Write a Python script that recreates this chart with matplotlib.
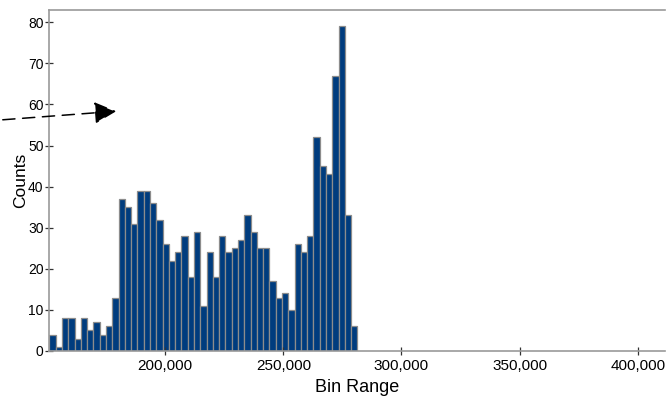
import matplotlib.pyplot as plt
from matplotlib.patches import FancyArrowPatch
from matplotlib.ticker import StrMethodFormatter

plt.rcParams['font.family'] = ['Liberation Sans', 'DejaVu Sans']

# histogram
bin_start = 151000
bin_width = 2660
counts = [4, 1, 8, 8, 3, 8, 5, 7, 4, 6, 13, 37, 35, 31, 39, 39, 36, 32, 26, 22,
          24, 28, 18, 29, 11, 24, 18, 28, 24, 25, 27, 33, 29, 25, 25, 17, 13, 14,
          10, 26, 24, 28, 52, 45, 43, 67, 79, 33, 6]
x_ticks = [200000, 250000, 300000, 350000, 400000]
y_ticks = [0, 10, 20, 30, 40, 50, 60, 70, 80]

lefts = [bin_start + i * bin_width for i in range(len(counts))]

fig = plt.figure(figsize=(6.66, 3.98), dpi=100)
ax = fig.add_axes([49 / 666, 1 - 351 / 398, 616 / 666, 341 / 398])

ax.bar(lefts, counts, width=bin_width, align='edge',
       color='#003c7e', edgecolor='#8c8c8c', linewidth=0.9)

ax.set_xlim(150850, 411500)
ax.set_ylim(0, 83)
ax.set_xticks(x_ticks)
ax.set_yticks(y_ticks)
ax.xaxis.set_major_formatter(StrMethodFormatter('{x:,.0f}'))

for side in ['left', 'bottom', 'top']:
    ax.spines[side].set_color('#9a9a9a')
    ax.spines[side].set_linewidth(1.2)
ax.spines['right'].set_visible(False)

ax.tick_params(axis='x', direction='inout', length=6, width=0.9,
               color='#333333', labelsize=11, pad=3)
ax.tick_params(axis='y', direction='inout', length=6, width=0.9,
               color='#333333', labelsize=10, pad=1)

ax.set_xlabel('Bin Range', fontsize=13, labelpad=4)
ax.set_ylabel('Counts', fontsize=12.5, labelpad=0)

# dashed arrow pointing in from the left
arrow = FancyArrowPatch((0 / 666, 1 - 120 / 398), (119 / 666, 1 - 111 / 398),
                        transform=fig.transFigure,
                        arrowstyle='-|>,head_length=9,head_width=4.5',
                        linestyle=(0, (8, 5)), color='black', linewidth=1.1,
                        mutation_scale=1.5)
fig.patches.append(arrow)

fig.savefig('out.png', dpi=100)
